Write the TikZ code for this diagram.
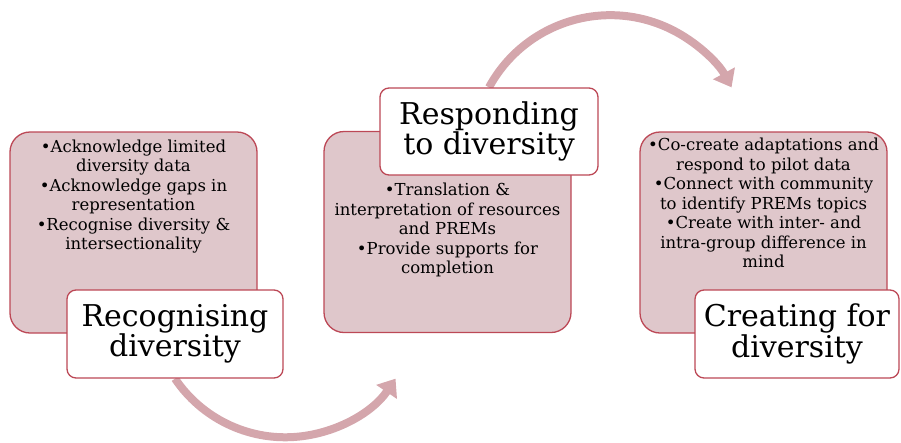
\documentclass[tikz,border=0pt]{standalone}
\usepackage{fontspec}
\setmainfont{DejaVu Serif}
\usetikzlibrary{positioning,arrows.meta,backgrounds}
\definecolor{panelfill}{RGB}{223,199,203}
\definecolor{panelline}{RGB}{188,72,86}
\definecolor{flowpink}{RGB}{212,166,172}

\begin{document}
\begin{tikzpicture}[x=1pt, y=-1pt,
    panel/.style={draw=panelline, line width=1.3pt, fill=panelfill, rounded corners=20pt,
        minimum width=247pt, minimum height=201pt},
    bullets/.style={align=center, inner sep=0pt, font=\fontsize{16.5}{19.5}\selectfont},
    heading/.style={draw=panelline, line width=1.3pt, fill=white, rounded corners=9pt,
        minimum height=88pt, align=center, inner sep=2pt, font=\fontsize{30}{28}\selectfont},
    flow/.style={draw=flowpink, line width=8pt, -{Triangle[width=24pt,length=16pt]}}]
    \useasboundingbox (0,0) rectangle (901,442);

    % the three stages
    \node[panel] (p1) at (133.5,232.5) {};
    \node[panel] (p2) at (447.5,232) {};
    \node[panel] (p3) at (763.5,232.5) {};

    \node[bullets, below=8pt of p1.north] (l1) {•Acknowledge limited\\diversity data\\•Acknowledge gaps in\\representation\\•Recognise diversity \&\\intersectionality};
    \node[bullets, below=52pt of p2.north] (l2) {•Translation \&\\interpretation of resources\\and PREMs\\•Provide supports for\\completion};
    \node[bullets, below=6.5pt of p3.north] (l3) {•Co-create adaptations and\\respond to pilot data\\•Connect with community\\to identify PREMs topics\\•Create with inter- and\\intra-group difference in\\mind};

    \node[heading, minimum width=216pt] (t1) at (175,334) {Recognising\\diversity};
    \node[heading, minimum width=218pt, minimum height=87pt] (t2) at (489,131.5) {Responding\\to diversity};
    \node[heading, minimum width=204pt] (t3) at (797,334) {Creating for\\diversity};

    % curved arrows between the stages
    \begin{scope}[on background layer]
        \draw[flow] (t1.south) arc[start angle=146, end angle=34, radius=133];
        \draw[flow] (t2.north) arc[start angle=208.5, end angle=331.5, radius=138];
    \end{scope}
\end{tikzpicture}
\end{document}
